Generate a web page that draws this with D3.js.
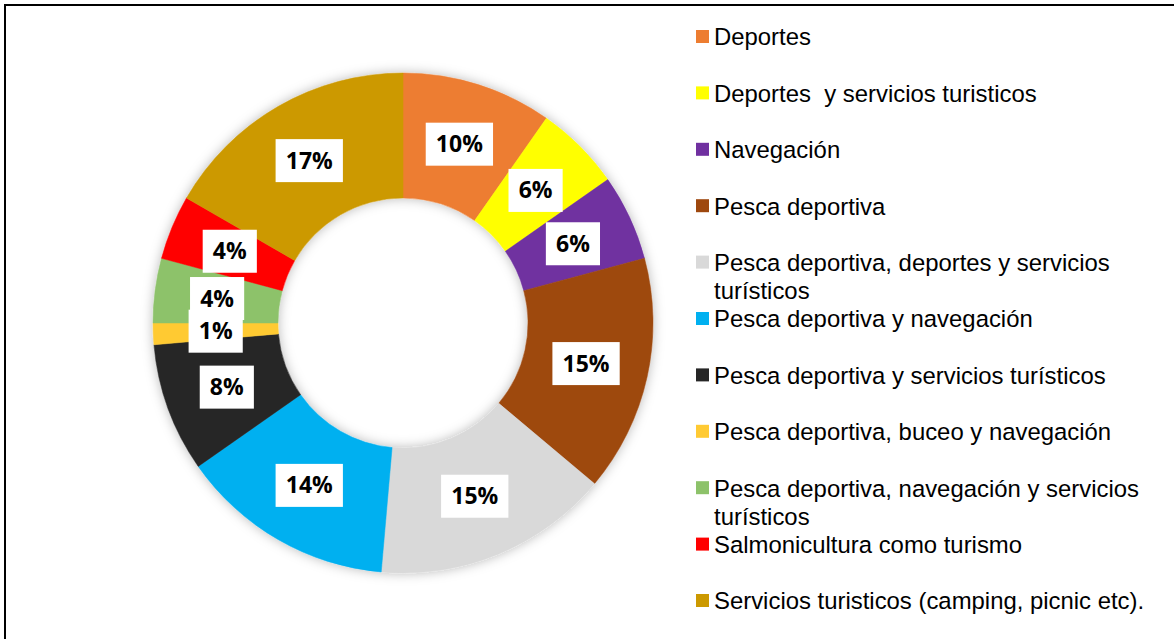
<!DOCTYPE html>
<html>
<head>
<meta charset="utf-8">
<script src="https://cdn.jsdelivr.net/npm/d3@7/dist/d3.min.js"></script>
<style>
  body { margin: 0; background: #fff; }
  svg { display: block; }
</style>
</head>
<body>
<svg id="svg" width="1174" height="639"></svg>
<script>
// categorias (lineas de leyenda separadas en arrays)
var categorias = [
  ["Deportes"],
  ["Deportes  y servicios turisticos"],
  ["Navegación"],
  ["Pesca deportiva"],
  ["Pesca deportiva, deportes y servicios", "turísticos"],
  ["Pesca deportiva y navegación"],
  ["Pesca deportiva y servicios turísticos"],
  ["Pesca deportiva, buceo y navegación"],
  ["Pesca deportiva, navegación y servicios", "turísticos"],
  ["Salmonicultura como turismo"],
  ["Servicios turisticos (camping, picnic etc)."]
];
// cantidades (total 72)
var cantidades = [7, 4, 4, 11, 11, 10, 6, 1, 3, 3, 12];
var colores = ["#ED7D31", "#FFFF00", "#7030A0", "#9E480E", "#D9D9D9", "#00B0F0",
               "#262626", "#FFCA33", "#8DC26A", "#FF0000", "#CC9900"];

var svg = d3.select("#svg");

// borde
svg.append("rect")
  .attr("x", 5).attr("y", 5)
  .attr("width", 1200).attr("height", 700)
  .attr("fill", "none")
  .attr("stroke", "#000")
  .attr("stroke-width", 2);

var defs = svg.append("defs");
var filtro = defs.append("filter").attr("id", "sombra")
  .attr("x", "-20%").attr("y", "-20%").attr("width", "140%").attr("height", "140%");
filtro.append("feDropShadow")
  .attr("dx", 0).attr("dy", 0)
  .attr("stdDeviation", 6)
  .attr("flood-color", "#000")
  .attr("flood-opacity", 0.28);

var total = d3.sum(cantidades);
var pie = d3.pie().sort(null).value(function(d) { return d; });
var arcos = pie(cantidades);

var rExt = 250, rInt = 125;
var arc = d3.arc().innerRadius(rInt).outerRadius(rExt);
var arcLabel = d3.arc().innerRadius((rInt + rExt) / 2).outerRadius((rInt + rExt) / 2);

var gDonut = svg.append("g").attr("transform", "translate(403,323)");

gDonut.append("g")
  .attr("filter", "url(#sombra)")
  .selectAll("path")
  .data(arcos)
  .enter()
  .append("path")
  .attr("d", arc)
  .attr("fill", function(d, i) { return colores[i]; })
  .attr("stroke", function(d, i) { return colores[i]; })
  .attr("stroke-width", 0.5);

// etiquetas
var gLab = gDonut.selectAll(".lab")
  .data(arcos)
  .enter()
  .append("g")
  .attr("class", "lab")
  .attr("transform", function(d) { return "translate(" + arcLabel.centroid(d) + ")"; });

gLab.append("rect").attr("fill", "#fff");
gLab.append("text")
  .attr("text-anchor", "middle")
  .attr("dy", "0.35em")
  .style("font-family", "'Open Sans', sans-serif")
  .style("font-weight", "700")
  .style("font-size", "23px")
  .attr("fill", "#000")
  .text(function(d) { return Math.round(d.value / total * 100) + "%"; });

gLab.each(function() {
  var g = d3.select(this);
  var w = g.select("text").node().getBBox().width;
  g.select("rect")
    .attr("x", -w / 2 - 10).attr("y", -21.5)
    .attr("width", w + 20).attr("height", 43);
});

// leyenda
var scaleLeg = d3.scalePoint()
  .domain(d3.range(categorias.length))
  .range([37, 601]);

var gLeg = svg.append("g");
var items = gLeg.selectAll("g")
  .data(categorias)
  .enter()
  .append("g")
  .attr("transform", function(d, i) { return "translate(696," + scaleLeg(i) + ")"; });

items.append("rect")
  .attr("x", 0).attr("y", -7)
  .attr("width", 13).attr("height", 13)
  .attr("fill", function(d, i) { return colores[i]; });

items.each(function(d) {
  var t = d3.select(this).append("text")
    .attr("x", 18)
    .style("font-family", "'Liberation Sans', Arial, sans-serif")
    .style("font-size", "23.9px")
    .style("white-space", "pre")
    .attr("fill", "#000");
  d.forEach(function(linea, k) {
    t.append("tspan")
      .attr("x", 18)
      .attr("y", k * 28)
      .attr("dy", "0.35em")
      .text(linea);
  });
});
</script>
</body>
</html>
